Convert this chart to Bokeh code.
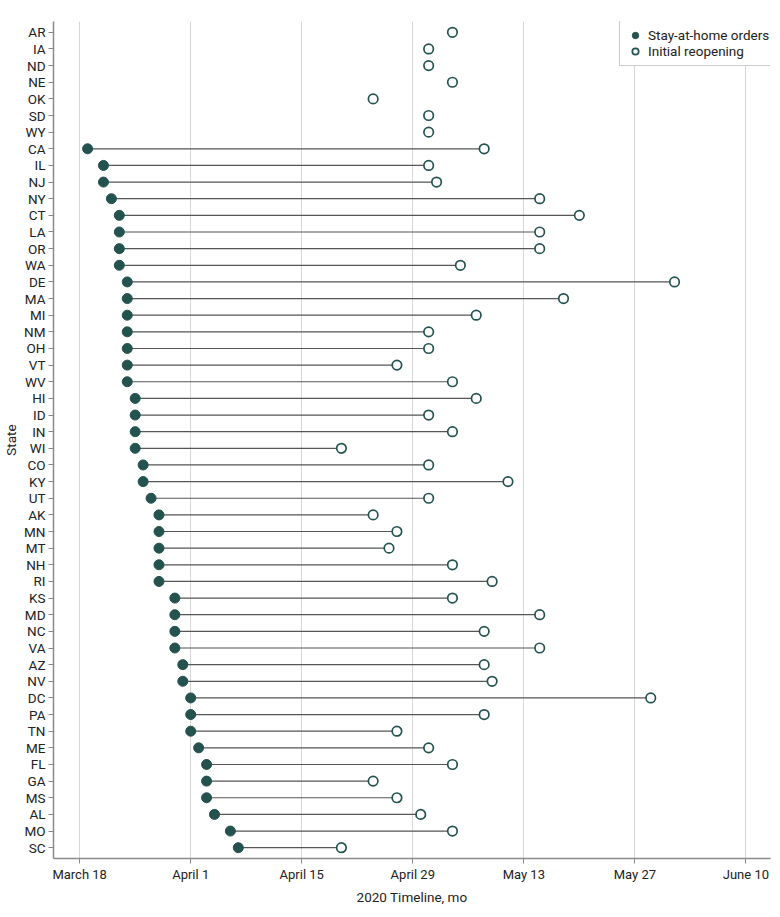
import pandas as pd
from bokeh.plotting import figure
from bokeh.models import FactorRange, FixedTicker, Legend, LegendItem, ColumnDataSource
from bokeh.embed import file_html
from bokeh.resources import INLINE

states = ["AR", "IA", "ND", "NE", "OK", "SD", "WY", "CA", "IL", "NJ", "NY", "CT", "LA",
          "OR", "WA", "DE", "MA", "MI", "NM", "OH", "VT", "WV", "HI", "ID", "IN", "WI",
          "CO", "KY", "UT", "AK", "MN", "MT", "NH", "RI", "KS", "MD", "NC", "VA", "AZ",
          "NV", "DC", "PA", "TN", "ME", "FL", "GA", "MS", "AL", "MO", "SC"]

stay_home = [None, None, None, None, None, None, None,
             "2020-03-19", "2020-03-21", "2020-03-21", "2020-03-22", "2020-03-23", "2020-03-23",
             "2020-03-23", "2020-03-23", "2020-03-24", "2020-03-24", "2020-03-24", "2020-03-24",
             "2020-03-24", "2020-03-24", "2020-03-24", "2020-03-25", "2020-03-25", "2020-03-25",
             "2020-03-25", "2020-03-26", "2020-03-26", "2020-03-27", "2020-03-28", "2020-03-28",
             "2020-03-28", "2020-03-28", "2020-03-28", "2020-03-30", "2020-03-30", "2020-03-30",
             "2020-03-30", "2020-03-31", "2020-03-31", "2020-04-01", "2020-04-01", "2020-04-01",
             "2020-04-02", "2020-04-03", "2020-04-03", "2020-04-03", "2020-04-04", "2020-04-06",
             "2020-04-07"]

reopening = ["2020-05-04", "2020-05-01", "2020-05-01", "2020-05-04", "2020-04-24", "2020-05-01",
             "2020-05-01", "2020-05-08", "2020-05-01", "2020-05-02", "2020-05-15", "2020-05-20",
             "2020-05-15", "2020-05-15", "2020-05-05", "2020-06-01", "2020-05-18", "2020-05-07",
             "2020-05-01", "2020-05-01", "2020-04-27", "2020-05-04", "2020-05-07", "2020-05-01",
             "2020-05-04", "2020-04-20", "2020-05-01", "2020-05-11", "2020-05-01", "2020-04-24",
             "2020-04-27", "2020-04-26", "2020-05-04", "2020-05-09", "2020-05-04", "2020-05-15",
             "2020-05-08", "2020-05-15", "2020-05-08", "2020-05-09", "2020-05-29", "2020-05-08",
             "2020-04-27", "2020-05-01", "2020-05-04", "2020-04-24", "2020-04-27", "2020-04-30",
             "2020-05-04", "2020-04-20"]

tick_dates = ["2020-03-18", "2020-04-01", "2020-04-15", "2020-04-29", "2020-05-13",
              "2020-05-27", "2020-06-10"]
tick_labels = ["March 18", "April 1", "April 15", "April 29", "May 13", "May 27", "June 10"]

origin = pd.Timestamp("2020-03-18")


def day_offset(d):
    return (pd.Timestamp(d) - origin).days


stay_states = [s for s, d in zip(states, stay_home) if d is not None]
stay_x = [day_offset(d) for d in stay_home if d is not None]
stay_end = [day_offset(r) for d, r in zip(stay_home, reopening) if d is not None]
reopen_x = [day_offset(d) for d in reopening]
ticks = [day_offset(d) for d in tick_dates]

FONT = "Roboto"
TEAL = "#24524f"

p = figure(width=772, height=907, output_backend="svg", toolbar_location=None,
           y_range=FactorRange(factors=list(reversed(states)), range_padding=0.006),
           x_range=(-3.3, 87.1),
           min_border_left=4, min_border_right=2, min_border_top=21, min_border_bottom=2)

p.outline_line_color = None
p.ygrid.grid_line_color = None
p.xgrid.grid_line_color = "#d6d6d6"
p.xgrid.grid_line_width = 1

seg_src = ColumnDataSource(dict(x0=stay_x, x1=stay_end, y=stay_states))
p.segment(x0="x0", y0="y", x1="x1", y1="y", source=seg_src, line_color="#555555", line_width=1.2)

stay_r = p.scatter(x=stay_x, y=stay_states, size=10, marker="circle",
                   fill_color=TEAL, line_color=TEAL, line_width=1)
open_r = p.scatter(x=reopen_x, y=states, size=9.5, marker="circle",
                   fill_color="white", line_color=TEAL, line_width=1.7)

p.xaxis.ticker = FixedTicker(ticks=ticks)
p.xaxis.major_label_overrides = {t: l for t, l in zip(ticks, tick_labels)}
p.xaxis.axis_label = "2020 Timeline, mo"
p.yaxis.axis_label = "State"

for ax in (p.xaxis[0], p.yaxis[0]):
    ax.axis_line_color = "#8a8a8a"
    ax.axis_line_width = 1.5
    ax.major_tick_line_color = "#8a8a8a"
    ax.major_tick_out = 5
    ax.major_tick_in = 0
    ax.minor_tick_line_color = None
    ax.major_label_text_font = FONT
    ax.major_label_text_font_size = "13px"
    ax.major_label_text_color = "#222222"
    ax.axis_label_text_font = FONT
    ax.axis_label_text_font_size = "13.5px"
    ax.axis_label_text_font_style = "normal"
    ax.axis_label_text_color = "#222222"

p.yaxis.major_label_text_font_size = "13.5px"
p.yaxis.major_label_standoff = 3
p.yaxis.axis_label_standoff = 2
p.xaxis.major_label_standoff = 3
p.xaxis.axis_label_standoff = 4

legend = Legend(items=[LegendItem(label="Stay-at-home orders", renderers=[stay_r]),
                       LegendItem(label="Initial reopening", renderers=[open_r])],
                location=(566, 792))
legend.margin = 0
legend.padding = 6
legend.spacing = 0
legend.glyph_width = 18
legend.glyph_height = 16
legend.label_height = 16
legend.label_standoff = 4
legend.label_text_font = FONT
legend.label_text_font_size = "13.5px"
legend.label_text_color = "#222222"
legend.border_line_color = "#999999"
legend.border_line_width = 1
legend.background_fill_alpha = 1
p.add_layout(legend)

open("out.html", "w").write(file_html(p, INLINE))
